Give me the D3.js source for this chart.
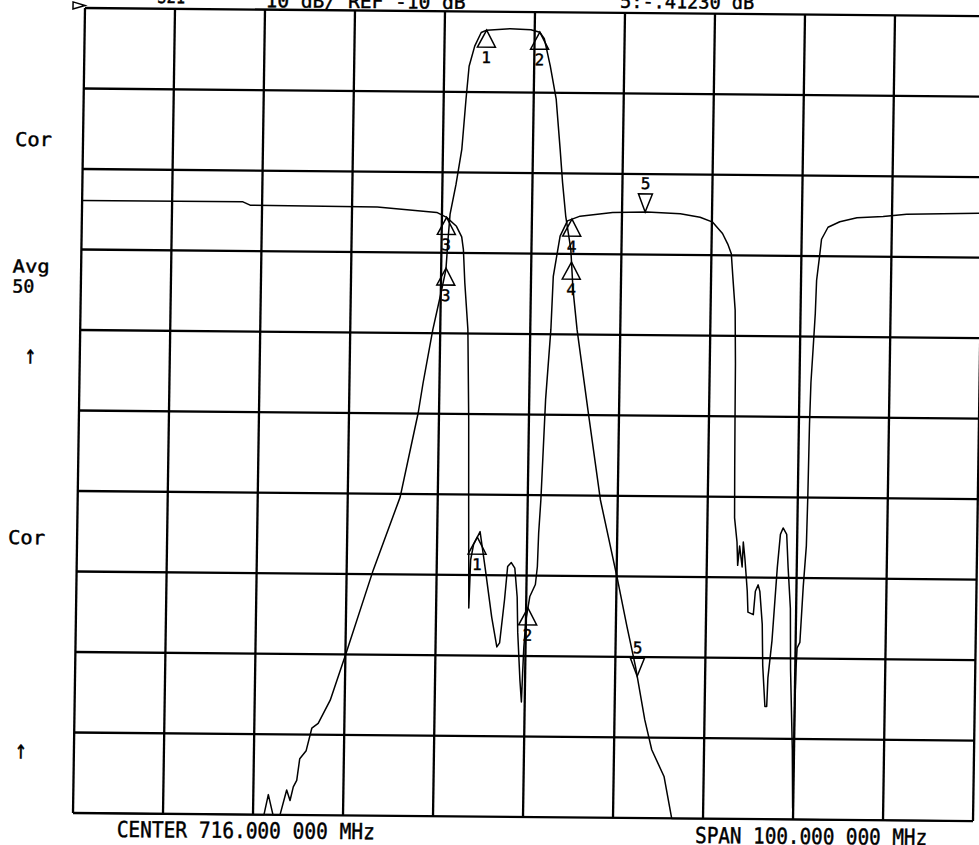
<!DOCTYPE html>
<html lang="en">
<head>
<meta charset="UTF-8">
<title>Network analyzer plot</title>
<script src="https://d3js.org/d3.v7.min.js"></script>
<style>
  body { margin: 0; background: #fff; }
  svg { display: block; }
  text { font-family: "DejaVu Sans Mono", monospace; fill: #000; stroke: #000; stroke-width: 0.45px; }
</style>
</head>
<body>
<svg id="chart" width="979" height="845"></svg>
<script>
// frequency axis: CENTER 716 MHz, SPAN 100 MHz, 10 div
var freqTicks = d3.range(666, 767, 10);
// log MAG, 10 dB/div, ref line at top
var magTicks = d3.range(0, -101, -10);

// channel 1 trace (narrow band-pass), MHz / dB
var ch1Freq = [666, 687.22, 687.67, 688.22, 689.0, 689.7, 690.09, 690.43, 690.8, 691.10, 691.80, 692.39, 693.09,
  694.39, 696.17, 698.95, 701.82, 703.69, 704.18, 705.17, 706.02, 706.53, 706.71, 706.90, 707.51, 708.10, 708.48,
  708.77, 709.36, 710.06, 710.66, 713.26, 715.57, 716.57, 717.08, 717.79, 718.50, 719.02, 719.34, 719.75, 720.37,
  720.68, 721.20, 722.53, 724.07, 726.11, 727.23, 728.25, 729.37, 730.19, 731.60, 732.52, 766];
var ch1Mag = [-100, -100, -97.5, -100, -100, -96.9, -98.2, -96.5, -95.7, -93.0, -92.0, -89.2, -88.6,
  -85.7, -79.5, -69.5, -60.4, -49.9, -46.2, -39.6, -35.0, -32.1, -28.4, -25.2, -21.5, -17.1, -10.9,
  -6.8, -4.3, -2.6, -2.3, -2.1, -2.2, -2.5, -3.3, -6.7, -10.8, -17.0, -21.1, -25.3, -29.4,
  -34.4, -39.4, -49.3, -60.5, -70.4, -76.2, -81.2, -87.8, -91.5, -94.8, -100, -100];

// channel 2 trace (two stop bands), MHz / dB
var ch2Freq = [666.0, 683.87, 684.67, 698.80, 705.42, 706.52, 707.63, 708.23, 708.44, 708.65, 709.07, 709.31,
  709.44, 709.63, 709.76, 710.06, 710.76, 711.37, 712.19, 712.81, 713.11, 713.59, 713.88, 714.28, 714.68, 714.99,
  715.11, 715.43, 715.63, 715.72, 715.81, 716.00, 716.39, 716.99, 717.18, 717.27, 717.46, 717.82, 718.29, 718.47,
  719.16, 719.95, 721.35, 724.96, 728.77, 732.48, 734.68, 736.09, 737.20, 737.80, 738.21, 738.42, 738.73, 738.85,
  738.90, 738.94, 739.01, 739.32, 739.43, 739.62, 739.93, 740.02, 740.23, 740.54, 740.65, 741.25, 741.44, 741.74,
  741.94, 742.26, 742.38, 742.69, 742.89, 742.98, 743.37, 743.84, 744.13, 744.42, 744.83, 745.04, 745.36, 745.48,
  745.81, 745.94, 746.00, 746.08, 746.17, 746.47, 746.75, 747.03, 747.11, 747.18, 747.27, 747.45, 747.64, 747.73,
  748.02, 748.21, 748.91, 750.21, 752.11, 755.02, 757.62, 766.0];
var ch2Mag = [-23.9, -23.9, -24.3, -24.4, -25.0, -25.6, -26.7, -28.0, -29.6, -33.7, -39.5, -50.7,
  -60.7, -74.1, -68.1, -66.2, -64.6, -69.0, -75.2, -78.9, -78.4, -73.0, -68.9, -68.4, -69.1, -72.7,
  -77.1, -83.0, -85.7, -82.1, -78.9, -75.5, -72.6, -71.1, -68.9, -64.7, -60.6, -48.1, -39.4, -32.8,
  -27.8, -25.9, -25.3, -24.8, -24.7, -24.9, -25.3, -25.9, -27.3, -28.6, -29.8, -32.7, -36.8, -43.4,
  -51.0, -56.1, -62.6, -65.6, -68.5, -66.1, -68.7, -65.6, -67.7, -71.7, -74.3, -74.6, -71.7, -70.9,
  -71.7, -75.8, -80.9, -86.0, -86.0, -82.4, -77.8, -68.7, -64.6, -63.8, -64.6, -68.7, -73.8, -81.4,
  -91.4, -98.6, -86.4, -81.3, -78.7, -78.0, -71.1, -66.0, -59.9, -50.8, -45.7, -41.6, -37.1, -33.0,
  -30.0, -27.9, -26.4, -25.7, -25.2, -25.0, -24.7, -24.5];

// markers 1..5, marker 5 is the active one
var markerNames = ["1", "2", "3", "4", "5"];
var ch1Markers = [710.66, 716.57, 706.54, 720.47, 728.45];
var ch2Markers = [710.46, 716.2, 706.52, 720.45, 728.57];

var gLeft = 80, gRight = 980, gTop = 13, gBottom = 818;

var x = d3.scaleLinear().domain([666, 766]).range([gLeft, gRight]);
var y = d3.scaleLinear().domain([0, -100]).range([gTop, gBottom]);

var svg = d3.select("#chart");
svg.append("rect").attr("width", 979).attr("height", 845).attr("fill", "#fff");

// the plotted sheet is scanned slightly askew
var g = svg.append("g").attr("transform", "matrix(1,0.009,-0.0149,1,5.19,-5.72)");

// grid
g.selectAll("line.vgrid")
  .data(freqTicks)
  .enter()
  .append("line")
  .attr("class", "vgrid")
  .attr("x1", d => x(d)).attr("x2", d => x(d))
  .attr("y1", gTop).attr("y2", gBottom)
  .attr("stroke", "#000").attr("stroke-width", 2.3);

g.selectAll("line.hgrid")
  .data(magTicks)
  .enter()
  .append("line")
  .attr("class", "hgrid")
  .attr("x1", gLeft).attr("x2", gRight)
  .attr("y1", d => y(d)).attr("y2", d => y(d))
  .attr("stroke", "#000").attr("stroke-width", 2.3);

// reference position pointer
g.append("path")
  .attr("d", "M68,7L68,14L80,10.5Z")
  .attr("fill", "none").attr("stroke", "#000").attr("stroke-width", 1.5);

var line = d3.line()
  .x(d => x(d[0]))
  .y(d => y(Math.max(-100, d[1])));

function trace(fs, ms) {
  g.append("path")
    .datum(d3.zip(fs, ms))
    .attr("d", line)
    .attr("fill", "none")
    .attr("stroke", "#000")
    .attr("stroke-width", 1.5)
    .attr("stroke-linejoin", "round");
}
trace(ch1Freq, ch1Mag);
trace(ch2Freq, ch2Mag);

function valueAt(fs, ms, f) {
  var i = d3.bisectRight(fs, f);
  if (i <= 0) return ms[0];
  if (i >= fs.length) return ms[ms.length - 1];
  var t = (f - fs[i - 1]) / (fs[i] - fs[i - 1]);
  return ms[i - 1] + t * (ms[i] - ms[i - 1]);
}

function markers(list, fs, ms) {
  list.forEach(function (f, i) {
    var px = x(f), py = y(valueAt(fs, ms, f));
    var active = i === list.length - 1;
    var m = g.append("g").attr("transform", "translate(" + px + "," + py + ")");
    m.append("path")
      .attr("d", active ? "M0,0L-7,-18L7,-18Z" : "M0,0L-9,17L9,17Z")
      .attr("fill", "none").attr("stroke", "#000").attr("stroke-width", 1.5);
    m.append("text")
      .attr("x", 0)
      .attr("y", active ? -23 : 33)
      .attr("text-anchor", "middle")
      .style("font-size", "16px")
      .text(markerNames[i]);
  });
}
markers(ch1Markers, ch1Freq, ch1Mag);
markers(ch2Markers, ch2Freq, ch2Mag);

// annotation text, plotter style
function label(txt, tx, ty, len, size) {
  var t = g.append("text")
    .attr("x", tx).attr("y", ty)
    .style("font-size", (size || 19) + "px")
    .text(txt);
  if (len) t.attr("textLength", len).attr("lengthAdjust", "spacingAndGlyphs");
}

label("S21", 152, 7.3, 28);
label("10 dB/ REF -10 dB", 260.5, 10.5, 200);
label("5:-.41230 dB", 615, 8, 134);

label("Cor", 12, 151.5, 37);
label("Avg", 11.5, 278, 37, 18);
label("50", 11.5, 298, 22, 18);
label("\u2191", 24.5, 369, 12, 26);
label("Cor", 11, 549.6, 37);
label("\u2191", 21, 764, 12, 26);

label("CENTER 716.000 000 MHz", 124, 841.6, 258, 22);
label("SPAN 100.000 000 MHz", 702.4, 842.4, 232, 22);
</script>
</body>
</html>
